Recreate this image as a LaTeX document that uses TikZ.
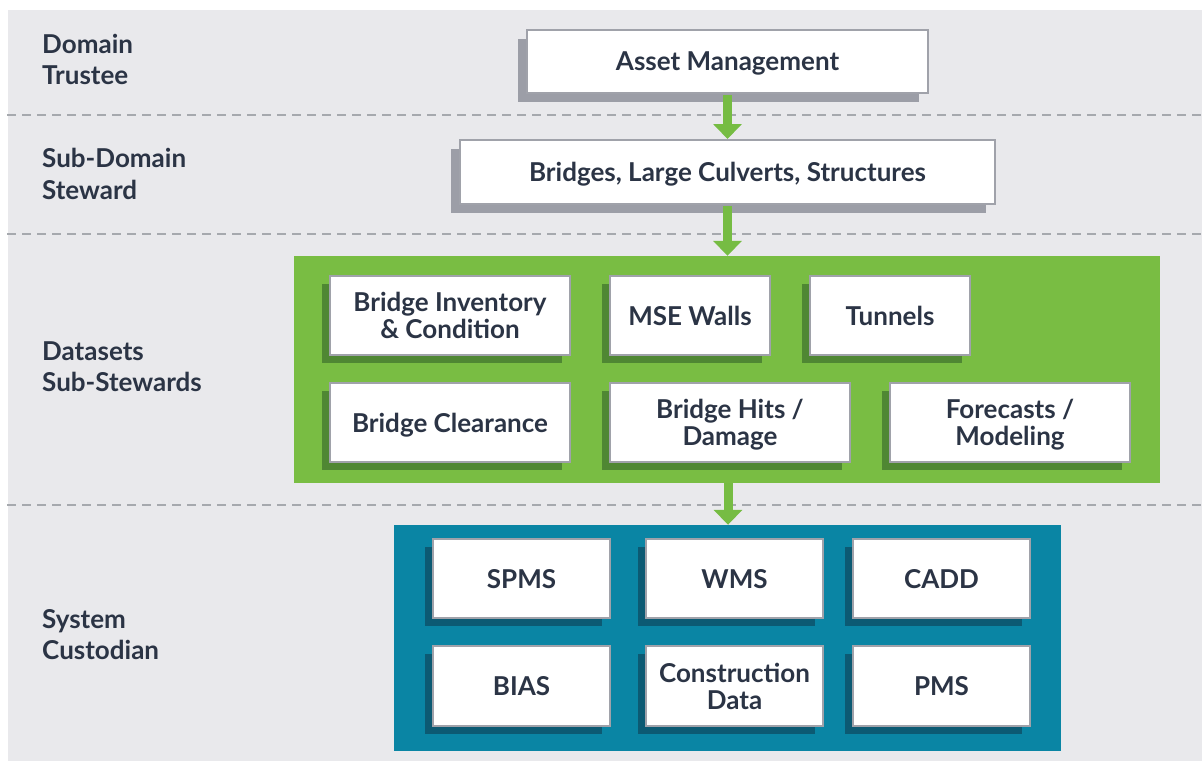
\documentclass[tikz,border=0pt]{standalone}
\usepackage{fontspec}
\setmainfont{Lato}
\usetikzlibrary{shadows,arrows.meta}
\definecolor{bgray}{HTML}{E9E9EC}
\definecolor{dashc}{HTML}{A6A9AE}
\definecolor{txt}{HTML}{2B3445}
\definecolor{bord}{HTML}{A0A2AA}
\definecolor{gshadow}{HTML}{9C9EA7}
\definecolor{gpanel}{HTML}{79BD43}
\definecolor{gdark}{HTML}{4F8733}
\definecolor{bpanel}{HTML}{0A85A4}
\definecolor{bdark}{HTML}{0C5A73}
\definecolor{arrg}{HTML}{76BC43}
\tikzset{
  card/.style={draw=bord, line width=2pt, fill=white, inner sep=0pt, align=center,
    text=txt, text depth=0pt, font=\bfseries\fontsize{26}{27}\selectfont},
  topcard/.style={card, general shadow={fill=gshadow, shadow xshift=-9pt, shadow yshift=-9pt}},
  greencard/.style={card, general shadow={fill=gdark, shadow xshift=-8pt, shadow yshift=-8pt}},
  bluecard/.style={card, general shadow={fill=bdark, shadow xshift=-8pt, shadow yshift=-8pt}},
  lanelabel/.style={anchor=north west, inner sep=0pt, align=left, text=txt,
    font=\bfseries\fontsize{26}{31.5}\selectfont},
  divider/.style={draw=dashc, line width=1.2pt, dash pattern=on 9pt off 6pt},
  flow/.style={draw=arrg, line width=9pt, -{Triangle[width=28pt,length=15pt]}},
}
\begin{document}
\begin{tikzpicture}[x=1pt,y=-1pt]
\useasboundingbox (0,0) rectangle (1202,761);
\fill[white] (0,0) rectangle (1202,761);
\fill[bgray] (8,10) rectangle (1202,761);
% dividers
\coordinate (d1l) at (7,115); \coordinate (d1r) at (1202,115);
\coordinate (d2l) at (7,234); \coordinate (d2r) at (1202,234);
\coordinate (d3l) at (7,505); \coordinate (d3r) at (1202,505);
\draw[divider] (d1l) -- (d1r);
\draw[divider] (d2l) -- (d2r);
\draw[divider] (d3l) -- (d3r);
% lane labels
\node[lanelabel] (l1) at (42,34) {Domain\\Trustee};
\node[lanelabel] (l2) at (42,148) {Sub-Domain\\Steward};
\node[lanelabel] (l3) at (42,341) {Datasets\\Sub-Stewards};
\node[lanelabel] (l4) at (42,609) {System\\Custodian};
% panels
\node[fill=gpanel, inner sep=0pt, minimum width=866pt, minimum height=227pt] (gp) at (727,369.5) {};
\node[fill=bpanel, inner sep=0pt, minimum width=667pt, minimum height=226pt] (bp) at (727.5,638) {};
% top cards
\node[topcard, minimum width=401pt, minimum height=63pt] (am) at (727.5,61.5) {Asset Management};
\node[topcard, minimum width=535pt, minimum height=64pt] (br) at (727.5,172) {Bridges, Large Culverts, Structures};
% dataset cards
\node[greencard, minimum width=240pt, minimum height=79pt] (bic) at (450,315.5) {Bridge Inventory\\\& Condition};
\node[greencard, minimum width=160pt, minimum height=79pt] (mse) at (690,315.5) {MSE Walls};
\node[greencard, minimum width=160pt, minimum height=79pt] (tun) at (890,315.5) {Tunnels};
\node[greencard, minimum width=240pt, minimum height=79pt] (bcl) at (450,422.5) {Bridge Clearance};
\node[greencard, minimum width=240pt, minimum height=79pt] (bhd) at (730,422.5) {Bridge Hits /\\Damage};
\node[greencard, minimum width=240pt, minimum height=79pt] (fcm) at (1010,422.5) {Forecasts /\\Modeling};
% system cards
\node[bluecard, minimum width=177pt, minimum height=79pt] (spms) at (521.5,578.5) {SPMS};
\node[bluecard, minimum width=177pt, minimum height=79pt] (wms) at (734.5,578.5) {WMS};
\node[bluecard, minimum width=177pt, minimum height=79pt] (cadd) at (941.5,578.5) {CADD};
\node[bluecard, minimum width=177pt, minimum height=80pt] (bias) at (521.5,686) {BIAS};
\node[bluecard, minimum width=177pt, minimum height=80pt] (cons) at (734.5,686) {Construction\\Data};
\node[bluecard, minimum width=177pt, minimum height=80pt] (pms) at (941.5,686) {PMS};
% arrows
\draw[flow] ([yshift=-1pt]am.south) -- (br.north);
\draw[flow] ([yshift=-1pt]br.south) -- (br.south |- gp.north);
\draw[flow] ([xshift=1pt]gp.south) -- ([xshift=1pt]gp.south |- bp.north);
\end{tikzpicture}
\end{document}
